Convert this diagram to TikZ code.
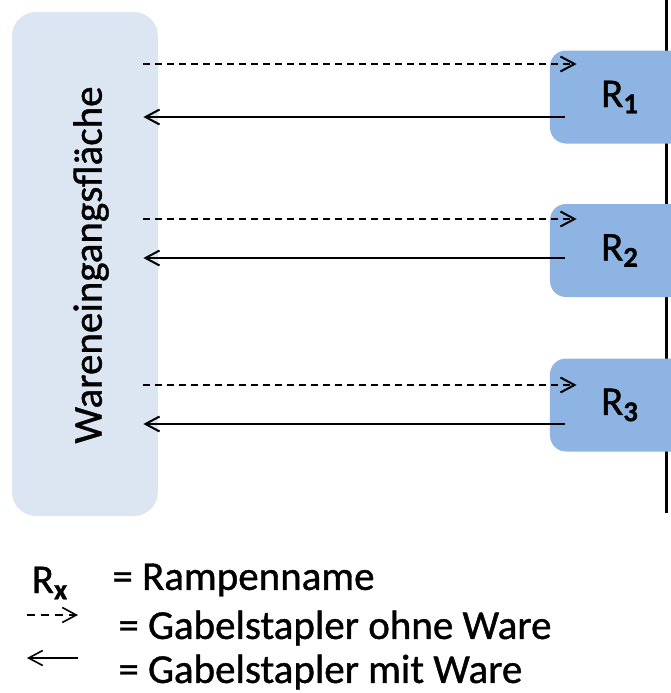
\documentclass[tikz,border=0pt]{standalone}
\usepackage{fontspec}
\setmainfont[FakeBold=1]{Carlito}
\usepackage{xcolor}
\usepackage{tikz}
\usetikzlibrary{arrows.meta, positioning, calc}
\definecolor{boxgrau}{HTML}{DCE6F2}
\definecolor{rampblau}{HTML}{8DB4E2}

\begin{document}
\begin{tikzpicture}[x=0.5pt, y=0.5pt,
    >={Straight Barb[length=7pt, width=7.5pt]},
    every node/.style={font=\fontsize{20.5pt}{24pt}\selectfont, inner sep=0pt},
    flaechebox/.style={fill=boxgrau, rounded corners=12pt, minimum width=73pt, minimum height=252pt},
    rampe/.style={fill=rampblau, rounded corners=8pt, minimum width=70pt, minimum height=46.5pt},
    leer/.style={->, line width=1pt, dash pattern=on 3.5pt off 2.5pt},
    voll/.style={->, line width=1pt}]
  \useasboundingbox (0,0) rectangle (671,693);
  \clip (0,0) rectangle (671,693);
  \node[flaechebox] (flaeche) at (85,429) {};
  \node[rotate=90] (flaechetext) at (91,428) {Wareneingangsfläche};
  \draw[line width=1.5pt] (667,693) -- (667,180);
  \node[rampe] (r1) at (620,596) {R\textsubscript{\textbf{1}}};
  \node[rampe] (r2) at (620,442.5) {R\textsubscript{\textbf{2}}};
  \node[rampe] (r3) at (620,288) {R\textsubscript{\textbf{3}}};
  \coordinate (links) at ([xshift=-7.5pt]flaeche.east);
  \foreach \r/\d/\s in {r1/16.5/-10, r2/15.75/-3.75, r3/10/-9.5} {
    \coordinate (\r-ein) at ([xshift=13.5pt, yshift=\d pt]\r.west);
    \coordinate (\r-aus) at ([xshift=7.5pt, yshift=\s pt]\r.west);
    \draw[leer] (links |- \r-ein) -- (\r-ein);
    \draw[voll] (\r-aus) -- (links |- \r-aus);
  }
  % Legende
  \node (rx) at (50,110) {R\textsubscript{\textbf{x}}};
  \node[anchor=west] (rampenname) at (112,113) {= Rampenname};
  \coordinate (ld1) at (27,78);
  \coordinate (ld2) at (78,78);
  \draw[->, line width=0.8pt, dash pattern=on 4pt off 3pt] (ld1) -- (ld2);
  \node[anchor=west] (ohne) at (118,65) {= Gabelstapler ohne Ware};
  \coordinate (lm1) at (78,35);
  \coordinate (lm2) at (27,35);
  \draw[->, line width=0.8pt] (lm1) -- (lm2);
  \node[anchor=west] (mit) at (118,21) {= Gabelstapler mit Ware};
\end{tikzpicture}
\end{document}
